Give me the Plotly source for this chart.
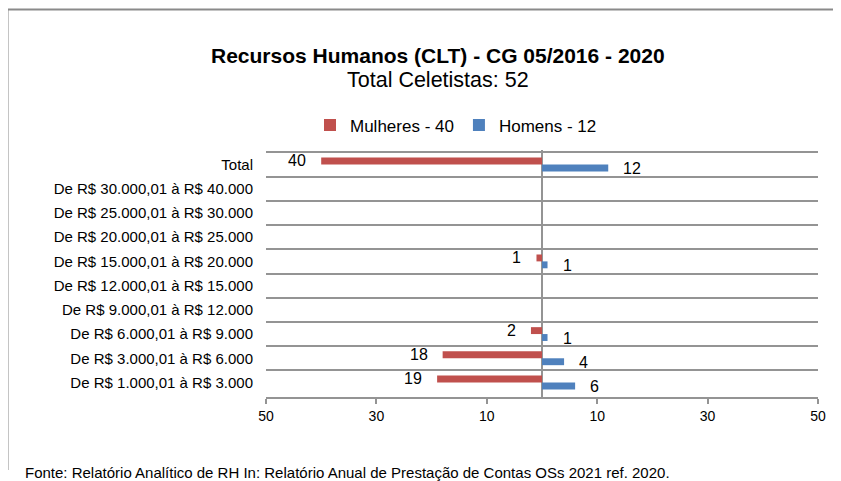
import plotly.graph_objects as go

categories = [
    "Total",
    "De R$ 30.000,01 à R$ 40.000",
    "De R$ 25.000,01 à R$ 30.000",
    "De R$ 20.000,01 à R$ 25.000",
    "De R$ 15.000,01 à R$ 20.000",
    "De R$ 12.000,01 à R$ 15.000",
    "De R$ 9.000,01 à R$ 12.000",
    "De R$ 6.000,01 à R$ 9.000",
    "De R$ 3.000,01 à R$ 6.000",
    "De R$ 1.000,01 à R$ 3.000",
]
mulheres = [40, 0, 0, 0, 1, 0, 0, 2, 18, 19]
homens = [12, 0, 0, 0, 1, 0, 0, 1, 4, 6]

tick_vals = [-50, -30, -10, 10, 30, 50]
tick_text = ["50", "30", "10", "10", "30", "50"]

RED = "#C0504D"
BLUE = "#4F81BD"
GRID = "#949494"
FONT = "Arial, Liberation Sans, sans-serif"

fig = go.Figure()
fig.add_trace(go.Bar(
    y=categories, x=[-v for v in mulheres], orientation="h",
    name="Mulheres - 40", marker=dict(color=RED, line=dict(width=0)),
    hoverinfo="skip",
))
fig.add_trace(go.Bar(
    y=categories, x=homens, orientation="h",
    name="Homens - 12", marker=dict(color=BLUE, line=dict(width=0)),
    hoverinfo="skip",
))

annotations = []
for cat, m, h in zip(categories, mulheres, homens):
    if m:
        annotations.append(dict(
            x=-m, y=cat, xref="x", yref="y", text=str(m), showarrow=False,
            xanchor="right", yanchor="middle", xshift=-13, yshift=4,
            font=dict(size=16, color="#000", family=FONT)))
    if h:
        annotations.append(dict(
            x=h, y=cat, xref="x", yref="y", text=str(h), showarrow=False,
            xanchor="left", yanchor="middle", xshift=13, yshift=-4,
            font=dict(size=16, color="#000", family=FONT)))

# page has an 8px body margin; reference pixel coords -> figure coords
OFF = 8
W, H = 841 - OFF, 481 - OFF
L, R, T, B = 266, 818, 150, 397  # plot area in reference pixels
def px(X):
    return (X - L) / (R - L)
def py(Y):
    return (B - Y) / (B - T)

annotations += [
    dict(x=px(437.5), y=py(56), xref="paper", yref="paper", showarrow=False,
         text="<b>Recursos Humanos (CLT) - CG 05/2016 - 2020</b>",
         xanchor="center", yanchor="middle",
         font=dict(size=21, color="#000", family=FONT)),
    dict(x=px(437.5), y=py(80), xref="paper", yref="paper", showarrow=False,
         text="Total Celetistas: 52", xanchor="center", yanchor="middle",
         font=dict(size=21.5, color="#000", family=FONT)),
    dict(x=px(23), y=py(472), xref="paper", yref="paper", showarrow=False,
         text="Fonte: Relatório Analítico de RH In: Relatório Anual de Prestação de Contas OSs 2021 ref. 2020.",
         xanchor="left", yanchor="middle",
         font=dict(size=15, color="#000", family=FONT)),
]

shapes = [
    dict(type="line", xref="paper", yref="paper", x0=px(7.5), x1=px(7.5),
         y0=py(470), y1=py(9.5), line=dict(color="#8a8a8a", width=2)),
    dict(type="line", xref="paper", yref="paper", x0=px(7.5), x1=px(870),
         y0=py(9.5), y1=py(9.5), line=dict(color="#8a8a8a", width=2)),
]

fig.update_layout(
    width=W, height=H,
    margin=dict(l=L - OFF, r=W - (R - OFF), t=T - OFF, b=H - (B - OFF), pad=0),
    paper_bgcolor="white", plot_bgcolor="white",
    barmode="group", bargap=0.43, bargroupgap=0,
    font=dict(family=FONT, color="#000"),
    showlegend=True,
    legend=dict(orientation="h", x=px(310), y=py(125.5), xanchor="left",
                yanchor="middle", font=dict(size=17, family=FONT, color="#000"),
                bgcolor="rgba(0,0,0,0)", itemclick=False, itemdoubleclick=False,
                tracegroupgap=0),
    annotations=annotations,
    shapes=shapes,
    xaxis=dict(range=[-50, 50], tickvals=tick_vals, ticktext=tick_text,
               ticks="outside", ticklen=5, tickcolor=GRID, tickwidth=1.5,
               showline=True, linecolor=GRID, linewidth=1.5,
               showgrid=False, zeroline=True, zerolinecolor=GRID, zerolinewidth=1.5,
               tickfont=dict(size=14, family=FONT, color="#000"), fixedrange=True),
    yaxis=dict(type="category", autorange="reversed", tickson="boundaries",
               showgrid=True, gridcolor=GRID, gridwidth=1.5, ticks="",
               showline=False, zeroline=False, ticklabelstandoff=12,
               tickfont=dict(size=15, family=FONT, color="#000"), fixedrange=True),
)

fig.write_html("out.html")
